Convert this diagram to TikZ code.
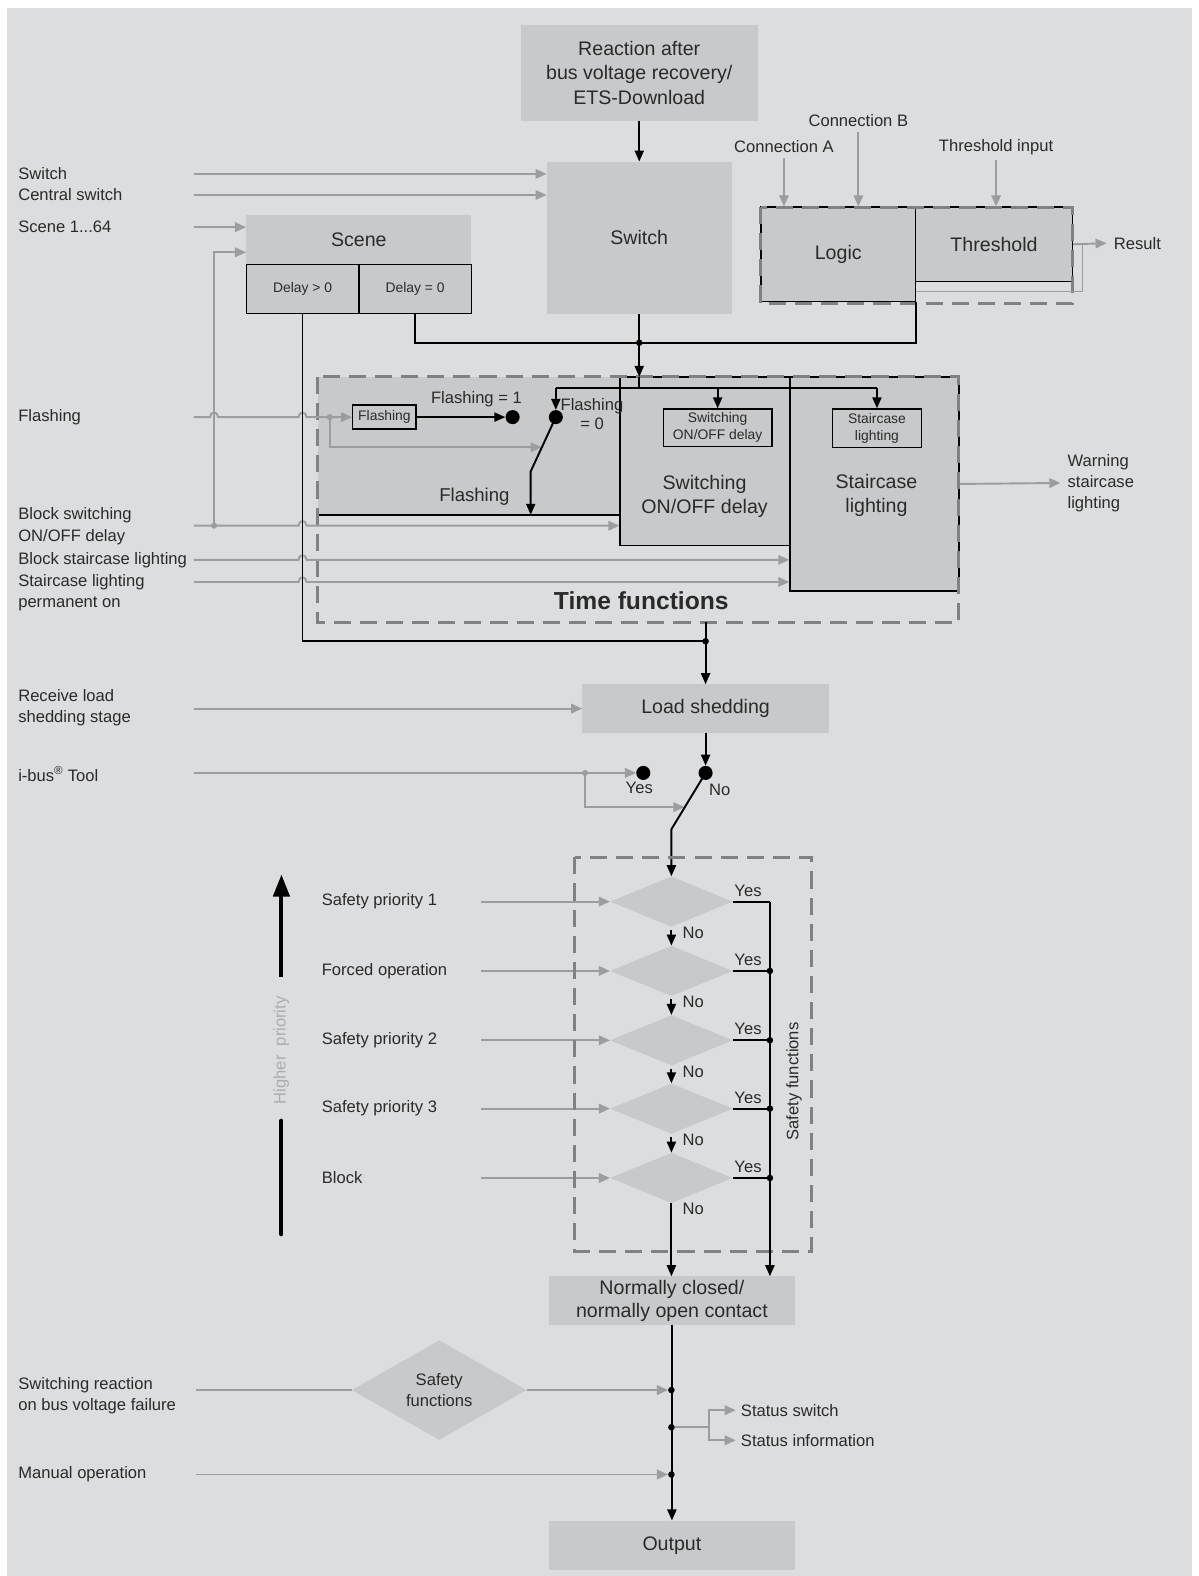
\documentclass[tikz,border=0pt]{standalone}
\usepackage{fontspec}
\setmainfont{Liberation Sans}
\usepackage{xcolor}
\usepackage{tikz}
\usetikzlibrary{arrows.meta,shapes.geometric,positioning}

\definecolor{bggray}{HTML}{DCDDDF}
\definecolor{boxgray}{HTML}{C8C9CB}
\definecolor{wiregray}{HTML}{9C9D9F}
\definecolor{dashgray}{HTML}{808183}
\definecolor{inkgray}{HTML}{2A2A2A}
\definecolor{faintgray}{HTML}{ACADAF}

\newcommand{\sigfont}{\fontsize{16.5}{21}\selectfont}
\newcommand{\blockfont}{\fontsize{19.5}{24.5}\selectfont}
\newcommand{\tinyblockfont}{\fontsize{13.8}{17}\selectfont}

\tikzset{
  block/.style={fill=boxgray,inner sep=0pt,align=center,text=inkgray,font=\blockfont},
  frame/.style={block,draw=black,line width=1.4pt},
  smallframe/.style={frame,font=\tinyblockfont},
  choice/.style={diamond,fill=boxgray,inner sep=0pt,align=center,text=inkgray,font=\sigfont},
  sig/.style={inner sep=0pt,align=left,anchor=west,text=inkgray,font=\sigfont},
  wire/.style={wiregray,line width=1.9pt},
  wirearrow/.style={wire,-{Triangle[length=11pt,width=9.5pt]}},
  flow/.style={black,line width=1.9pt},
  flowarrow/.style={flow,-{Triangle[length=11pt,width=9pt]}},
  fence/.style={dashgray,line width=3pt,dash pattern=on 17pt off 9pt},
  contact/.style={circle,fill=black,inner sep=0pt,minimum size=14pt},
  joint/.style={circle,fill=black,inner sep=0pt,minimum size=6.5pt},
  wirejoint/.style={circle,fill=wiregray,inner sep=0pt,minimum size=6pt},
  hop/.style 2 args={insert path={-- (#1-4,#2) .. controls (#1-4,#2-6) and (#1+4,#2-6) .. (#1+4,#2)}}
}

\begin{document}
\begin{tikzpicture}[x=1pt,y=-1pt]
\useasboundingbox (0,0) rectangle (1192,1568);
\fill[bggray] (7,8) rectangle (1186,1568);

% blocks at the top
\node[block,minimum width=236pt,minimum height=95pt] (recovery) at (636,72.5) {Reaction after\\bus voltage recovery/\\ETS-Download};
\node[block,minimum width=184pt,minimum height=151pt] (switch) at (636,236.5) {Switch};
\node[block,minimum width=224pt,minimum height=49pt] (scene) at (357,238.5) {Scene};
\node[smallframe,minimum width=112pt,minimum height=49pt] (delaypos) at (301,287.5) {Delay > 0};
\node[smallframe,minimum width=112pt,minimum height=49pt] (delayzero) at (413,287.5) {Delay = 0};
\node[frame,minimum width=154pt,minimum height=94pt] (logic) at (834,253) {Logic};
\node[frame,minimum width=156pt,minimum height=74pt] (threshold) at (989,243) {Threshold};
\draw[fence] (757,206) rectangle (1067,302);

\node[sig,anchor=center,inner sep=2pt] (connA) at (780,146) {Connection A};
\node[sig,anchor=center,inner sep=2pt] (connB) at (854,120) {Connection B};
\node[sig,anchor=center,inner sep=2pt] (thrin) at (991,146) {Threshold input};
\node[sig] (result) at (1108,242) {Result};

% time functions
\node[block,minimum width=301pt,minimum height=137pt] (flasharea) at (466.5,443.5) {};
\draw[black,line width=1.4pt] (flasharea.south west) -- (flasharea.south east);
\node[frame,minimum width=169pt,minimum height=168pt] (switching) at (701.5,459) {};
\node[frame,minimum width=168pt,minimum height=213pt] (staircase) at (870,481.5) {};
\node[block,fill=none] (switchingtext) at (701,494) {Switching\\ON/OFF delay};
\node[block,fill=none] (staircasetext) at (872,493) {Staircase\\lighting};
\node[block,fill=none,font=\fontsize{18.5}{22}\selectfont] (flashtext) at (472,494) {Flashing};
\node[smallframe,minimum width=63pt,minimum height=24pt] (flashbox) at (382.5,415) {Flashing};
\node[smallframe,minimum width=108pt,minimum height=37pt] (switchingsmall) at (714,425.5) {Switching\\ON/OFF delay};
\node[smallframe,minimum width=89pt,minimum height=38pt] (staircasesmall) at (872.5,426) {Staircase\\lighting};
\draw[fence] (316,375) rectangle (954,619);
\node[text=inkgray,font=\bfseries\fontsize{24.5}{28}\selectfont] (timetitle) at (638,598) {Time functions};

\node[contact] (flashon) at (510,415) {};
\node[contact] (flashoff) at (553,415) {};
\node[sig,anchor=center] (flashonlabel) at (474,397) {Flashing = 1};
\node[sig,anchor=center,align=center,font=\fontsize{16.5}{18}\selectfont] (flashofflabel) at (589,412) {Flashing\\= 0};

% left inputs
\node[sig] (lSwitch) at (18,173) {Switch};
\node[sig] (lCentral) at (18,194) {Central switch};
\node[sig] (lScene) at (18,226) {Scene 1...64};
\node[sig] (lFlash) at (18,415) {Flashing};
\node[sig] (lBlockSw) at (18,523.5) {Block switching\\ON/OFF delay};
\node[sig] (lBlockSt) at (18,557) {Block staircase lighting};
\node[sig] (lPerm) at (18,589.5) {Staircase lighting\\permanent on};
\node[sig] (lLoad) at (18,704.5) {Receive load\\shedding stage};
\node[sig] (lTool) at (18,770) {i-bus\textsuperscript{®} Tool};
\node[sig] (lBusFail) at (18,1388.5) {Switching reaction\\on bus voltage failure};
\node[sig] (lManual) at (18,1467) {Manual operation};
\node[sig] (warning) at (1062,480.5) {Warning\\staircase\\lighting};

\coordinate (inSwitch) at (193,173);
\coordinate (inCentral) at (193,194);
\coordinate (inScene) at (193,226);
\coordinate (inFlash) at (193,415);
\coordinate (inBlockSw) at (193,523);
\coordinate (inBlockSt) at (193,557);
\coordinate (inPerm) at (193,579);
\coordinate (inLoad) at (193,705);
\coordinate (inTool) at (193,769);
\coordinate (inBusFail) at (195,1383);
\coordinate (inManual) at (195,1467);

% gray signal wires
\draw[wirearrow] (inSwitch) -- (switch.west |- inSwitch);
\draw[wirearrow] (inCentral) -- (switch.west |- inCentral);
\draw[wirearrow] (inScene) -- (scene.west |- inScene);
\node[wirejoint] (blocksplit) at (213,523) {};
\coordinate (sceneback) at (213,251);
\draw[wirearrow] (blocksplit.center) -- (sceneback) -- (scene.west |- sceneback);
\draw[wirearrow] (inFlash) [hop={213}{415}] [hop={301}{415}] -- (flashbox.west);
\node[wirejoint] (flashsplit) at (328,415) {};
\coordinate (flashlever) at (539,445);
\draw[wirearrow] (flashsplit.center) |- (flashlever);
\draw[wirearrow] (inBlockSw) -- (blocksplit.center) [hop={301}{523}] -- (switching.west |- inBlockSw);
\draw[wirearrow] (inBlockSt) [hop={301}{557}] -- (staircase.west |- inBlockSt);
\draw[wirearrow] (inPerm) [hop={301}{579}] -- (staircase.west |- inPerm);
\draw[wirearrow] (staircase.east) -- ([xshift=-7pt]warning.west);

\draw[wirearrow] ([yshift=-3pt]connA.south) -- (connA.south |- logic.north);
\draw[wirearrow] ([yshift=-3pt]connB.south) -- (connB.south |- logic.north);
\draw[wirearrow] ([yshift=-3pt]thrin.south) -- (thrin.south |- threshold.north);
\draw[wirearrow] (threshold.east) -- ([xshift=-7pt]result.west);
\coordinate (logicout) at (911,290);
\coordinate (loopcorner) at (1077,290);
\draw[wire] (logicout) -- (loopcorner) -- (loopcorner |- threshold.east);

% black signal flow
\draw[flowarrow] (recovery.south) -- (switch.north);
\coordinate (mergeA) at (636,341);
\coordinate (mergeB) at (702,638);
\coordinate (timetop) at (636,375);
\coordinate (timebus) at (636,386);
\coordinate (timebottom) at (702,619);
\draw[flow] (switch.south) -- (mergeA);
\draw[flow] (delayzero.south) -- (delayzero.south |- mergeA) -| (logic.south east);
\draw[flow] (delaypos.south) |- (mergeB);
\node[joint] at (mergeA) {};
\draw[flowarrow] (mergeA) -- (timetop);
\draw[flow] (timetop) -- (timebus);
\draw[flow] (flashoff |- timebus) -- (staircasesmall.north |- timebus);
\draw[flowarrow] (flashoff |- timebus) -- (flashoff.north);
\draw[flowarrow] (switchingsmall.north |- timebus) -- (switchingsmall.north);
\draw[flowarrow] (staircasesmall.north |- timebus) -- (staircasesmall.north);
\draw[flowarrow] (flashbox.east) -- (flashon.west);
\coordinate (flashknee) at (528,469);
\draw[flowarrow] (flashoff.center) -- (flashknee) -- (flashknee |- flasharea.south);

% load shedding
\node[block,minimum width=245pt,minimum height=48pt] (loadshed) at (702,705) {Load shedding};
\draw[flow] (timebottom) -- (mergeB);
\node[joint] at (mergeB) {};
\draw[flowarrow] (mergeB) -- (loadshed.north);
\draw[wirearrow] (inLoad) -- (loadshed.west |- inLoad);
\node[contact] (shedno) at (702,769) {};
\node[contact] (shedyes) at (640,769) {};
\node[sig,anchor=center] (yeslabel) at (636,784) {Yes};
\node[sig,anchor=center] (nolabel) at (716,786) {No};
\draw[flowarrow] (loadshed.south) -- (shedno.north);
\node[wirejoint] (toolsplit) at (582,769) {};
\coordinate (shedlever) at (681,803);
\draw[wirearrow] (inTool) -- (shedyes.west);
\draw[wirearrow] (toolsplit.center) |- (shedlever);

% safety functions
\foreach \i/\y/\txt in {1/897/Safety priority 1,2/966/Forced operation,3/1035/Safety priority 2,4/1103/Safety priority 3,5/1172/Block}{
  \node[choice,minimum width=122pt,minimum height=50pt] (sf\i) at (668,\y) {};
  \node[sig] (sfl\i) at (320,\y) {\txt};
  \coordinate (sfin\i) at (479,\y);
  \coordinate (yb\i) at (766,\y);
  \draw[wirearrow] (sfin\i) -- (sf\i.west);
  \draw[flow] (sf\i.east) -- (yb\i);
  \node[sig,anchor=center] at ([xshift=15pt,yshift=11pt]sf\i.east) {Yes};
  \node[sig] at ([xshift=11pt,yshift=-6pt]sf\i.south) {No};
}
\foreach \i/\j in {1/2,2/3,3/4,4/5}
  \draw[flowarrow] ([yshift=-3pt]sf\i.south) -- (sf\j.north);
\coordinate (shedknee) at (668,825);
\draw[flowarrow] (shedno.center) -- (shedknee) -- (sf1.north);
\draw[fence] (572,853) rectangle (807,1245);
\node[sig,anchor=center,rotate=90] (safetytitle) at (790,1076) {Safety functions};

\draw[line width=4pt,-{Triangle[length=22pt,width=16pt]}] (280,972) -- (280,870);
\draw[line width=4pt,line cap=round] (280,1115) -- (280,1228);
\node[sig,anchor=center,rotate=90,text=faintgray] (priority) at (280,1045) {Higher\ \ priority};

% contact and output
\node[block,minimum width=245pt,minimum height=48pt,font=\fontsize{19.5}{23}\selectfont] (nc) at (668.5,1294) {Normally closed/\\normally open contact};
\node[block,minimum width=245pt,minimum height=49pt] (output) at (668.5,1537.5) {Output};
\draw[flowarrow] (yb1) -- (yb1 |- nc.north);
\foreach \i in {2,...,5}
  \node[joint] at (yb\i) {};
\draw[flowarrow] (sf5.south) -- (sf5.south |- nc.north);
\coordinate (statfork) at (705,1420);
\draw[wire] (668,1420) -- (statfork);
\draw[flowarrow] (nc.south) -- (output.north);
\node[joint] (jFail) at (668,1383) {};
\node[joint] (jStatus) at (668,1420) {};
\node[joint] (jManual) at (668,1467) {};
\node[choice,minimum width=174pt,minimum height=76pt] (failsafe) at (437,1383) {Safety\\functions};
\draw[wire] (inBusFail) -- (failsafe.west);
\draw[wirearrow] (failsafe.east) -- (jFail.west);
\draw[wirearrow] (inManual) -- (jManual.west);
\node[sig] (statsw) at (737,1403) {Status switch};
\node[sig] (statinfo) at (737,1433) {Status information};
\draw[wirearrow] (statfork) |- ([xshift=-5pt]statsw.west);
\draw[wirearrow] (statfork) |- ([xshift=-5pt]statinfo.west);
\end{tikzpicture}
\end{document}
